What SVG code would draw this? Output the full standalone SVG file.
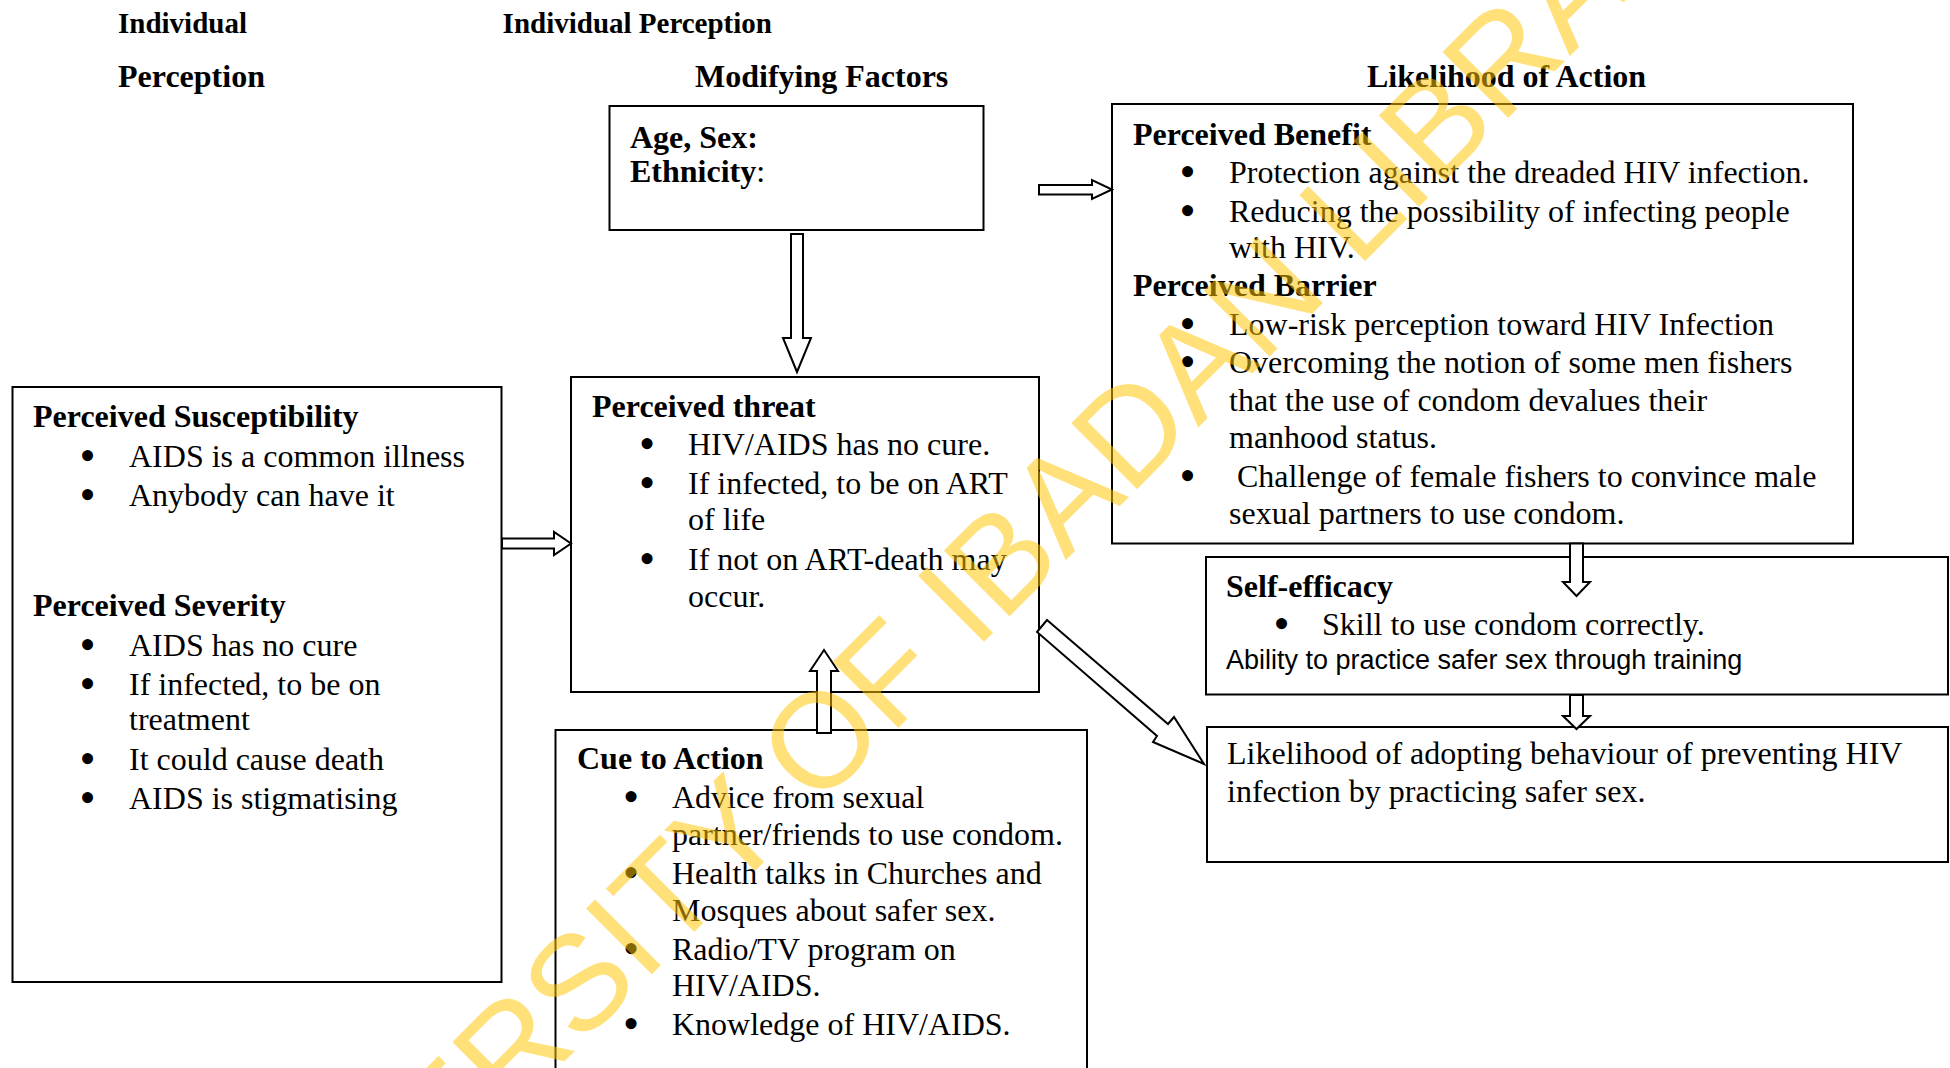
<svg xmlns="http://www.w3.org/2000/svg" width="1950" height="1068" viewBox="0 0 1950 1068">
<style>
.box{fill:#fff;stroke:#000;stroke-width:2}
.arr{fill:#fff;stroke:#000;stroke-width:2;stroke-linejoin:miter}
.t{font-family:"Liberation Serif","Times New Roman",serif;font-size:32px;fill:#000}
.b{font-weight:bold}
.h1{font-size:29px;font-weight:bold}
.bul{font-size:46px;text-anchor:middle}
.sans{font-family:"Liberation Sans",Arial,sans-serif;font-size:27px;fill:#000}
.wm{font-family:"Liberation Sans",Arial,sans-serif;font-size:135px;fill:#FFC400;opacity:0.52}
</style>
<rect width="1950" height="1068" fill="#fff"/>
<g id="headers" class="t">
<text class="h1" x="118" y="33">Individual</text>
<text class="b" x="118" y="87">Perception</text>
<text class="h1" x="502.6" y="33">Individual Perception</text>
<text class="b" x="695" y="87">Modifying Factors</text>
<text class="b" x="1367" y="87">Likelihood of Action</text>
</g>
<g id="modifying-factors" class="t">
<rect class="box" x="609.5" y="106" width="374" height="124"/>
<text class="b" x="630" y="148">Age, Sex:</text>
<text x="630" y="182"><tspan class="b">Ethnicity</tspan>:</text>
</g>
<g id="susceptibility-severity" class="t">
<rect class="box" x="12.5" y="387" width="489" height="595"/>
<text class="b" x="33" y="427">Perceived Susceptibility</text>
<text class="bul" x="87.5" y="471">•</text>
<text x="129" y="467">AIDS is a common illness</text>
<text class="bul" x="87.5" y="510">•</text>
<text x="129" y="506">Anybody can have it</text>
<text class="b" x="33" y="616">Perceived Severity</text>
<text class="bul" x="87.5" y="660">•</text>
<text x="129" y="656">AIDS has no cure</text>
<text class="bul" x="87.5" y="699">•</text>
<text x="129" y="695">If infected, to be on</text>
<text x="129" y="730">treatment</text>
<text class="bul" x="87.5" y="773.5">•</text>
<text x="129" y="769.5">It could cause death</text>
<text class="bul" x="87.5" y="813">•</text>
<text x="129" y="809">AIDS is stigmatising</text>
</g>
<g id="perceived-threat" class="t">
<rect class="box" x="571" y="377" width="468" height="315"/>
<text class="b" x="592" y="417">Perceived threat</text>
<text class="bul" x="647" y="459">•</text>
<text x="688" y="455">HIV/AIDS has no cure.</text>
<text class="bul" x="647" y="498">•</text>
<text x="688" y="494">If infected, to be on ART</text>
<text x="688" y="530">of life</text>
<text class="bul" x="647" y="574">•</text>
<text x="688" y="570">If not on ART-death may</text>
<text x="688" y="607">occur.</text>
</g>
<g id="cue-to-action" class="t">
<rect class="box" x="555.5" y="730" width="531.5" height="350"/>
<text class="b" x="577" y="769">Cue to Action</text>
<text class="bul" x="631" y="812">•</text>
<text x="672" y="808">Advice from sexual</text>
<text x="672" y="845">partner/friends to use condom.</text>
<text class="bul" x="631" y="888">•</text>
<text x="672" y="884">Health talks in Churches and</text>
<text x="672" y="921">Mosques about safer sex.</text>
<text class="bul" x="631" y="964">•</text>
<text x="672" y="960">Radio/TV program on</text>
<text x="672" y="996">HIV/AIDS.</text>
<text class="bul" x="631" y="1039">•</text>
<text x="672" y="1035">Knowledge of HIV/AIDS.</text>
</g>
<g id="benefit-barrier" class="t">
<rect class="box" x="1112" y="104" width="741" height="439.5"/>
<text class="b" x="1133" y="145">Perceived Benefit</text>
<text class="bul" x="1187.5" y="187">•</text>
<text x="1229" y="183">Protection against the dreaded HIV infection.</text>
<text class="bul" x="1187.5" y="226">•</text>
<text x="1229" y="222">Reducing the possibility of infecting people</text>
<text x="1229" y="258">with HIV.</text>
<text class="b" x="1133" y="295.5">Perceived Barrier</text>
<text class="bul" x="1187.5" y="339">•</text>
<text x="1229" y="335">Low-risk perception toward HIV Infection</text>
<text class="bul" x="1187.5" y="377">•</text>
<text x="1229" y="373">Overcoming the notion of some men fishers</text>
<text x="1229" y="411">that the use of condom devalues their</text>
<text x="1229" y="448">manhood status.</text>
<text class="bul" x="1187.5" y="491">•</text>
<text x="1237" y="487">Challenge of female fishers to convince male</text>
<text x="1229" y="523.5">sexual partners to use condom.</text>
</g>
<g id="self-efficacy" class="t">
<rect class="box" x="1206" y="557" width="742" height="137.5"/>
<text class="b" x="1226" y="597">Self-efficacy</text>
<text class="bul" x="1281.6" y="639">•</text>
<text x="1322" y="635">Skill to use condom correctly.</text>
<text class="sans" x="1226" y="669">Ability to practice safer sex through training</text>
</g>
<g id="likelihood" class="t">
<rect class="box" x="1207" y="727" width="741" height="135"/>
<text x="1227" y="764">Likelihood of adopting behaviour of preventing HIV</text>
<text x="1227" y="802">infection by practicing safer sex.</text>
</g>
<g id="connectors">
<polygon class="arr" points="1039,185 1092,185 1092,180 1112,189.5 1092,199 1092,194.5 1039,194.5"/>
<polygon class="arr" points="791,234 803,234 803,338 811,338 797,372 783,338 791,338"/>
<polygon class="arr" points="502,538.5 554,538.5 554,532 571,543.5 554,555 554,548.5 502,548.5"/>
<polygon class="arr" points="817,733 831,733 831,671 838,671 824,650 810,671 817,671"/>
<polygon class="arr" points="1570,543.5 1583,543.5 1583,582 1590,582 1576.5,596 1563,582 1570,582"/>
<polygon class="arr" points="1570,695 1583,695 1583,716 1590,716 1576.5,729 1563,716 1570,716"/>
<polygon class="arr" points="1047,620 1168,724 1174,717 1204,764 1153,742 1157,736 1037,632"/>
</g>
<text class="wm" transform="translate(821,737) rotate(-45)" x="-900" y="48">UNIVERSITY OF IBADAN LIBRARY</text>
</svg>
